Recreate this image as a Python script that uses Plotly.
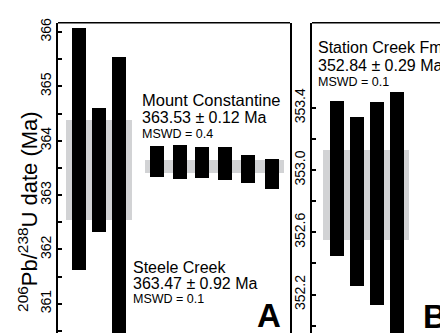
import plotly.graph_objects as go

# ---------------- data ----------------
# Panel A: Steele Creek analyses
steele_x = [1, 2, 3]
steele_hi = [366.07, 364.61, 365.55]
steele_lo = [361.63, 362.33, 359.90]
steele_age, steele_err, steele_mswd = 363.47, 0.92, 0.1

# Panel A: Mount Constantine analyses
mc_x = [4.9, 6.025, 7.15, 8.3, 9.45, 10.65]
mc_hi = [363.90, 363.93, 363.89, 363.89, 363.74, 363.67]
mc_lo = [363.34, 363.29, 363.31, 363.28, 363.22, 363.11]
mc_age, mc_err, mc_mswd = 363.53, 0.12, 0.4

# Panel B: Station Creek Fm analyses
stc_x = [1, 2, 3, 4]
stc_hi = [353.446, 353.339, 353.44, 353.503]
stc_lo = [352.447, 352.257, 352.137, 351.80]
stc_age, stc_err, stc_mswd = 352.84, 0.29, 0.1

# weighted-mean band extents (x, in analysis units)
steele_band_x = [2.0]
steele_band_w = 3.3
mc_band_x = [7.775]
mc_band_w = 6.95
stc_band_x = [2.435]
stc_band_w = 4.3

# tick values
a_ticks = [361, 362, 363, 364, 365, 366]
a_minor = [360.5, 361.5, 362.5, 363.5, 364.5, 365.5]
b_ticks = [352.2, 352.6, 353.0, 353.4]
b_tick_labels = ["352.2", "352.6", "353.0", "353.4"]
b_minor = [352.0, 352.4, 352.8, 353.2]

FONT = "Liberation Sans, Arial, Helvetica, sans-serif"
PAGE_W, PAGE_H = 448, 333
OFF = 8  # default page body margin
W, H = PAGE_W - OFF, PAGE_H - OFF
GRAY = "#d2d3d5"
BAR_W = 0.7


def px(x):
    return (x - OFF) / W


def py(y):
    return 1 - (y - OFF) / H


fig = go.Figure()

# bands
fig.add_trace(go.Bar(x=steele_band_x, base=[steele_age - steele_err], y=[2 * steele_err],
                     width=steele_band_w, marker=dict(color=GRAY, line_width=0),
                     xaxis="x", yaxis="y", showlegend=False, hoverinfo="skip"))
fig.add_trace(go.Bar(x=mc_band_x, base=[mc_age - mc_err], y=[2 * mc_err],
                     width=mc_band_w, marker=dict(color=GRAY, line_width=0),
                     xaxis="x", yaxis="y", showlegend=False, hoverinfo="skip"))
fig.add_trace(go.Bar(x=stc_band_x, base=[stc_age - stc_err], y=[2 * stc_err],
                     width=stc_band_w, marker=dict(color=GRAY, line_width=0),
                     xaxis="x2", yaxis="y2", showlegend=False, hoverinfo="skip"))

# analysis bars
for xs, hi, lo, xa, ya in [(steele_x, steele_hi, steele_lo, "x", "y"),
                           (mc_x, mc_hi, mc_lo, "x", "y"),
                           (stc_x, stc_hi, stc_lo, "x2", "y2")]:
    fig.add_trace(go.Bar(x=xs, base=lo, y=[h - l for h, l in zip(hi, lo)],
                         width=BAR_W, marker=dict(color="black", line_width=0),
                         xaxis=xa, yaxis=ya, showlegend=False))

ydom = [0, py(18)]
axis_common = dict(showline=True, linecolor="black", linewidth=1.5,
                   ticks="inside", ticklen=4, tickwidth=1.5, tickcolor="black",
                   tickangle=-90, tickfont=dict(family=FONT, size=14, color="black"),
                   showgrid=False, zeroline=False, fixedrange=True)
minor_common = dict(ticks="inside", ticklen=4, tickwidth=1.5, tickcolor="black")

fig.update_layout(
    width=W, height=H,
    margin=dict(l=0, r=0, t=0, b=0),
    paper_bgcolor="white", plot_bgcolor="white",
    barmode="overlay", bargap=0,
    xaxis=dict(domain=[px(58), px(290)], range=[-0.05, 11.55], visible=False, fixedrange=True),
    yaxis=dict(domain=ydom, range=[360.462, 366.168], tickmode="array", tickvals=a_ticks,
               mirror=True,
               minor=dict(tickmode="array", tickvals=a_minor, **minor_common),
               **axis_common),
    xaxis2=dict(domain=[px(312), 1], range=[-0.25, 6.55], visible=False, fixedrange=True),
    yaxis2=dict(domain=ydom, range=[351.953, 353.946], tickmode="array",
                tickvals=b_ticks, ticktext=b_tick_labels, anchor="x2",
                minor=dict(tickmode="array", tickvals=b_minor, **minor_common),
                **axis_common),
    font=dict(family=FONT, color="black"),
)

# top borders
fig.add_shape(type="line", xref="x domain", yref="y domain", x0=0, x1=1, y0=1, y1=1,
              line=dict(color="black", width=1.5))
fig.add_shape(type="line", xref="x2 domain", yref="y2 domain", x0=0, x1=1, y0=1, y1=1,
              line=dict(color="black", width=1.5))


def label(text, x, y, size, bold=False, anchor="left"):
    fig.add_annotation(text=f"<b>{text}</b>" if bold else text,
                       x=px(x), y=py(y), xref="paper", yref="paper",
                       xanchor=anchor, yanchor="middle", showarrow=False,
                       font=dict(family=FONT, size=size, color="black"), borderpad=0)


# y-axis title
fig.add_annotation(text="<sup>206</sup>Pb/<sup>238</sup>U date (Ma)", x=px(28), y=py(210),
                   xref="paper", yref="paper", xanchor="center", yanchor="middle",
                   textangle=-90, showarrow=False, font=dict(family=FONT, size=22, color="black"))

label("Mount Constantine", 141, 96, 16.5)
label(f"{mc_age:.2f} ± {mc_err:.2f} Ma", 141, 114, 16)
label(f"MSWD = {mc_mswd}", 141, 131, 12.5)

label("Steele Creek", 132, 266, 16)
label(f"{steele_age:.2f} ± {steele_err:.2f} Ma", 132, 283, 16)
label(f"MSWD = {steele_mswd}", 132, 298, 12.5)

label("Station Creek Fm", 317, 43.5, 16)
label(f"{stc_age:.2f} ± {stc_err:.2f} Ma", 317, 61, 16)
label(f"MSWD = {stc_mswd}", 317, 78.5, 12.5)

label("A", 268.5, 315, 33, bold=True, anchor="center")
label("B", 435, 316, 33, bold=True, anchor="center")

fig.write_html("out.html")
